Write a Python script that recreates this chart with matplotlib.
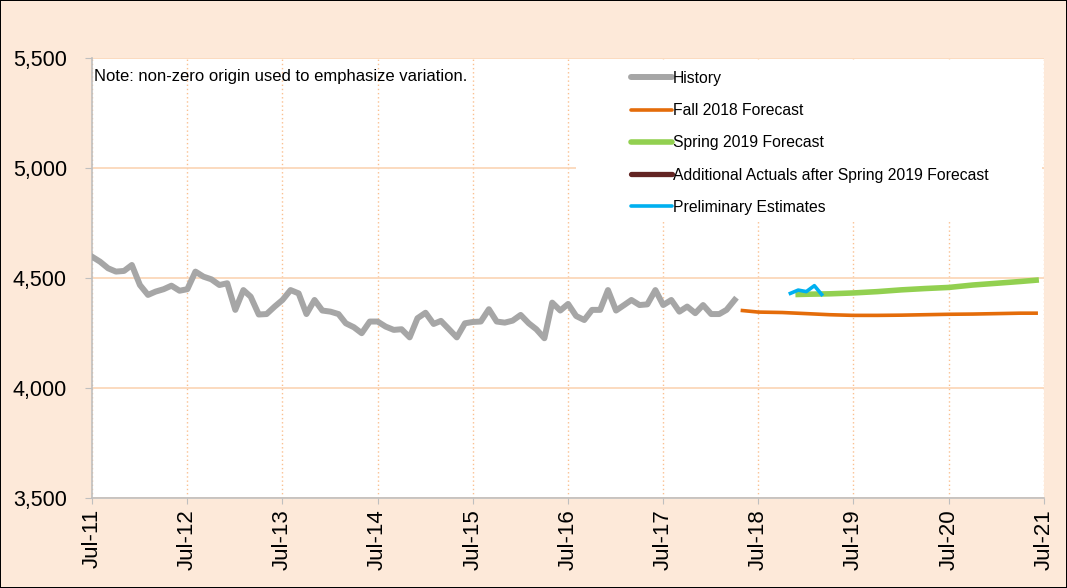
import numpy as np
import pandas as pd
import matplotlib
matplotlib.use('Agg')
import matplotlib.pyplot as plt
import matplotlib.dates as mdates
from matplotlib.patches import Rectangle
from matplotlib.ticker import FuncFormatter

plt.rcParams['font.family'] = ['Liberation Sans', 'DejaVu Sans']

# monthly history, Jul-2011 .. Apr-2018
history = [4597, 4574, 4544, 4529, 4532, 4559,
           4468, 4423, 4438, 4449, 4465, 4442, 4449, 4529, 4506, 4494, 4468, 4476,
           4355, 4445, 4415, 4334, 4336, 4370, 4400, 4445, 4430, 4336, 4400, 4352,
           4347, 4336, 4294, 4276, 4249, 4302, 4302, 4279, 4264, 4267, 4230, 4317,
           4342, 4291, 4305, 4267, 4230, 4294, 4300, 4302, 4358, 4302, 4297, 4306,
           4332, 4294, 4267, 4226, 4388, 4352, 4382, 4327, 4309, 4355, 4355, 4445,
           4352, 4377, 4400, 4377, 4380, 4445, 4377, 4400, 4347, 4370, 4340, 4377,
           4336, 4336, 4355, 4400]
hist_dates = pd.date_range('2011-07-01', periods=len(history), freq='MS')

fall_dates = pd.to_datetime(['2018-05-01', '2018-07-01', '2018-10-01', '2019-01-01',
                             '2019-04-01', '2019-07-01', '2019-10-01', '2020-01-01',
                             '2020-04-01', '2020-07-01', '2020-10-01', '2021-01-01',
                             '2021-04-01', '2021-06-01'])
fall_2018 = [4352, 4345, 4343, 4338, 4333, 4330, 4330, 4331, 4333, 4335, 4336, 4338, 4340, 4340]

spring_dates = pd.to_datetime(['2018-12-01', '2019-01-01', '2019-04-01', '2019-07-01',
                               '2019-10-01', '2020-01-01', '2020-04-01', '2020-07-01',
                               '2020-10-01', '2021-01-01', '2021-04-01', '2021-06-01'])
spring_2019 = [4425, 4426, 4428, 4432, 4438, 4446, 4452, 4457, 4468, 4476, 4484, 4490]

prelim_dates = pd.to_datetime(['2018-11-01', '2018-12-01', '2019-01-01', '2019-02-01', '2019-03-01'])
prelim = [4430, 4445, 4438, 4465, 4425]

# no additional actuals shown (legend entry only)
extra_dates = []
extra_actuals = []

years = list(range(2011, 2022))

peach = '#FDE9D9'
fig = plt.figure(figsize=(10.67, 5.88), dpi=100, facecolor=peach, edgecolor='black', linewidth=1.2)
ax = fig.add_axes([0.0862, 0.1531, 0.8922, 0.7483])
ax.set_facecolor('white')

ax.plot(hist_dates, history, color='#A6A6A6', lw=4.3, solid_joinstyle='round', label='History', zorder=3)
ax.plot(fall_dates, fall_2018, color='#E46C0A', lw=2.6, label='Fall 2018 Forecast', zorder=3)
ax.plot(spring_dates, spring_2019, color='#92D050', lw=4.0, label='Spring 2019 Forecast', zorder=3)
ax.plot(extra_dates, extra_actuals, color='#632523', lw=3.8,
        label='Additional Actuals after Spring 2019 Forecast', zorder=3)
ax.plot(prelim_dates, prelim, color='#00B0F0', lw=2.6, label='Preliminary Estimates', zorder=4)

ax.set_ylim(3500, 5500)
ax.set_yticks([3500, 4000, 4500, 5000, 5500])
ax.yaxis.set_major_formatter(FuncFormatter(lambda v, p: f'{int(v):,}'))
ax.set_xlim(pd.Timestamp('2011-07-01'), pd.Timestamp('2021-07-01'))
ax.set_xticks([pd.Timestamp(f'{y}-07-01') for y in years])
ax.xaxis.set_major_formatter(mdates.DateFormatter('%b-%y'))
plt.setp(ax.get_xticklabels(), rotation=90)

ax.set_axisbelow(True)
ax.yaxis.grid(True, color='#FBD4B4', lw=1.2, ls='-')
ax.xaxis.grid(True, color='#FAC090', lw=1.0, ls=(0, (1, 2)))

for s in ['top', 'right']:
    ax.spines[s].set_visible(False)
for s in ['left', 'bottom']:
    ax.spines[s].set_color('#BFBFBF')
    ax.spines[s].set_linewidth(1.2)
ax.tick_params(axis='y', colors='#BFBFBF', labelcolor='black', labelsize=15.5, length=5, pad=13)
ax.tick_params(axis='x', colors='#BFBFBF', labelcolor='black', labelsize=16, length=4, pad=4)

# white box behind the legend
ax.add_patch(Rectangle((0.508, 0.63), 0.49, 0.365, transform=ax.transAxes,
                       facecolor='white', edgecolor='none', zorder=1))

leg = ax.legend(loc='upper left', bbox_to_anchor=(0.56, 0.985), frameon=False,
                fontsize=11.3, handlelength=2.6, handletextpad=0.05, labelspacing=1.1,
                borderaxespad=0)
for h in leg.get_lines():
    h.set_solid_capstyle('round')

ax.text(0.002, 0.958, 'Note: non-zero origin used to emphasize variation.', transform=ax.transAxes,
        fontsize=12, va='center', ha='left', zorder=5)

fig.savefig('out.png', dpi=100, facecolor=fig.get_facecolor(), edgecolor=fig.get_edgecolor())
